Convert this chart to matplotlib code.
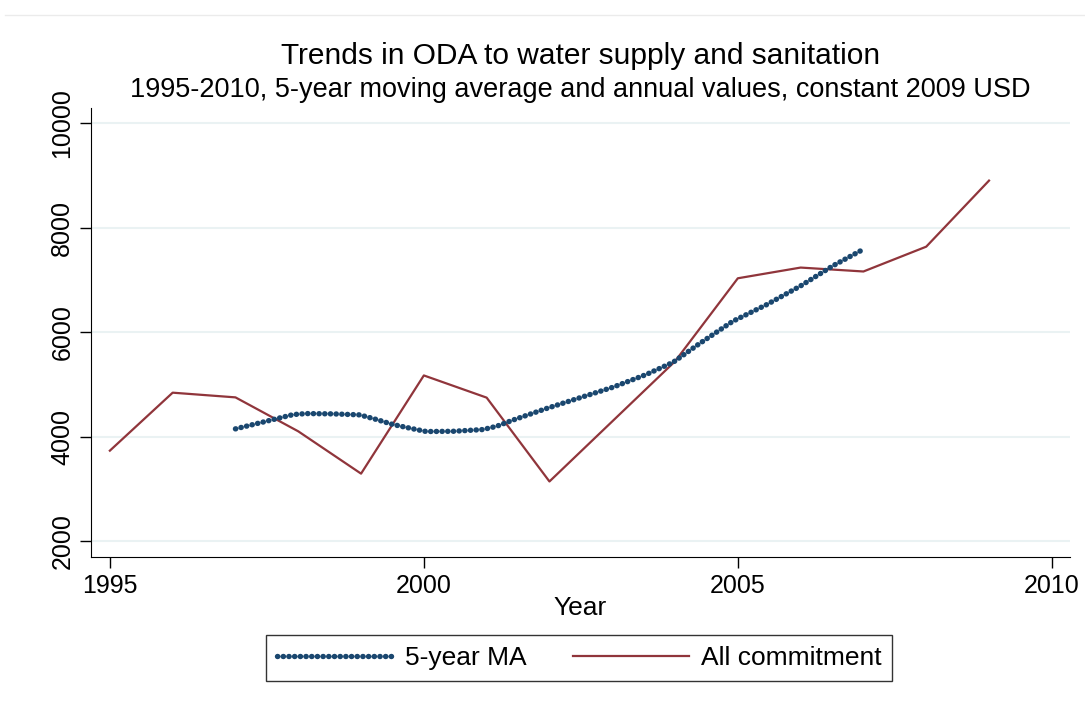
import matplotlib.pyplot as plt
from matplotlib.lines import Line2D

plt.rcParams['font.family'] = ['Liberation Sans', 'DejaVu Sans']

# Annual commitments (constant 2009 USD, millions)
years = [1995, 1996, 1997, 1998, 1999, 2000, 2001, 2002, 2003, 2004, 2005, 2006, 2007, 2008, 2009]
commitment = [3730, 4840, 4750, 4100, 3290, 5170, 4745, 3140, 4290, 5440, 7030, 7235, 7160, 7635, 8900]

# 5-year moving average
ma_years = [1997.0, 1997.28, 1997.6, 1997.92, 1998.13, 1998.56, 1998.98, 1999.25, 1999.51,
            1999.83, 2000.04, 2000.47, 2000.94, 2001.16, 2001.42, 2001.95, 2002.48, 2003.01,
            2003.54, 2003.97, 2004.39, 2004.92, 2005.46, 2005.99, 2006.52, 2006.99]
ma_values = [4147, 4230, 4325, 4421, 4440, 4434, 4415, 4325, 4230,
             4147, 4096, 4101, 4134, 4197, 4316, 4536, 4741, 4944,
             5187, 5422, 5780, 6207, 6526, 6877, 7273, 7579]

xticks = [1995, 2000, 2005, 2010]
yticks = [2000, 4000, 6000, 8000, 10000]

navy = '#1a476f'
maroon = '#90353b'

fig = plt.figure(figsize=(10.85, 7.04), dpi=100)
ax = fig.add_axes([0.0839, 0.2088, 0.9023, 0.6378])

ax.plot(ma_years, ma_values, color=navy, lw=3.9, linestyle=(0, (0.05, 1.0)),
        dash_capstyle='round', label='5-year MA', zorder=3)
ax.plot(years, commitment, color=maroon, lw=1.6, label='All commitment', zorder=2)

ax.set_xlim(1994.70, 2010.29)
ax.set_ylim(1694, 10290)
ax.set_xticks(xticks)
ax.set_yticks(yticks)
ax.set_yticklabels([str(v) for v in yticks], rotation=90, va='center')
ax.tick_params(axis='both', direction='out', length=8, width=1, labelsize=18, pad=4)
ax.grid(axis='y', color='#eaf2f3', lw=1.5)
ax.set_axisbelow(True)
for side in ['top', 'right']:
    ax.spines[side].set_visible(False)

ax.set_xlabel('Year', fontsize=19, labelpad=-1)

fig.text(0.535, 0.920, 'Trends in ODA to water supply and sanitation', ha='center', va='center', fontsize=21.5)
fig.text(0.535, 0.872, '1995-2010, 5-year moving average and annual values, constant 2009 USD',
         ha='center', va='center', fontsize=19.5)

# thin frame line at the top of the picture
fig.add_artist(Line2D([0.005, 1.0], [0.979, 0.979], color='#ebebeb', lw=1, transform=fig.transFigure))

leg = fig.legend(loc='center', bbox_to_anchor=(0.5336, 0.0653), ncol=2, fontsize=19,
                 frameon=True, fancybox=False, edgecolor='black', handlelength=4.4,
                 handletextpad=0.45, columnspacing=1.75, borderpad=0.4, borderaxespad=0)
leg.get_frame().set_linewidth(1)

fig.savefig('out.png', dpi=100, facecolor='white')
